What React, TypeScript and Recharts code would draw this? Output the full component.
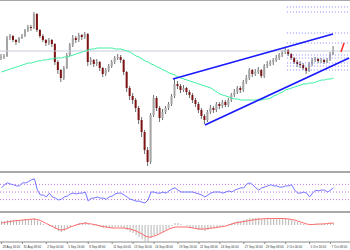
import React from "react";
import {
  Bar,
  ComposedChart,
  Line,
  ReferenceLine,
  XAxis,
  YAxis,
} from "recharts";

// price candles (H4), open of each bar = previous close
const FIRST_OPEN = 142;
const CLOSE = [
  143, 144, 162, 164, 160, 158, 162, 164, 170, 173,
  172, 186, 170, 164, 160, 157, 160, 156, 138, 130,
  122, 132, 145, 155, 162, 160, 165, 163, 166, 138,
  140, 136, 138, 132, 126, 130, 134, 138, 142, 143,
  140, 128, 112, 104, 100, 92, 80, 68, 50, 38,
  85, 102, 92, 82, 88, 92, 96, 104, 116, 114,
  110, 112, 108, 105, 100, 96, 90, 84, 80, 88,
  92, 90, 96, 94, 98, 95, 100, 105, 108, 112,
  110, 118, 122, 130, 126, 128, 130, 124, 134, 136,
  138, 140, 142, 145, 148, 150, 146, 142, 138, 136,
  135, 132, 129, 136, 140, 141, 139, 140, 138, 140,
  146, 150,
];
const HIGH = [
  146, 146, 164, 166, 165, 161, 163, 166, 171, 175,
  175, 188, 187, 171, 166, 161, 162, 161, 157, 140,
  131, 134, 147, 157, 165, 164, 167, 166, 168, 167,
  143, 141, 141, 139, 133, 132, 136, 140, 144, 146,
  145, 141, 129, 114, 107, 102, 94, 83, 70, 53,
  87, 105, 104, 94, 91, 94, 98, 106, 121, 119,
  116, 115, 113, 110, 107, 102, 98, 92, 86, 90,
  95, 94, 98, 98, 100, 100, 102, 107, 111, 114,
  114, 120, 125, 132, 131, 131, 133, 131, 136, 139,
  140, 142, 145, 147, 150, 152, 151, 147, 143, 140,
  139, 137, 133, 138, 142, 143, 142, 142, 141, 142,
  148, 154,
];
const LOW = [
  140, 141, 143, 160, 158, 155, 157, 161, 163, 168,
  169, 171, 168, 162, 158, 154, 155, 153, 135, 126,
  118, 120, 131, 144, 153, 157, 158, 160, 161, 134,
  135, 133, 134, 129, 123, 124, 128, 132, 136, 140,
  137, 125, 108, 100, 96, 88, 76, 63, 46, 34,
  36, 83, 89, 78, 80, 86, 90, 94, 102, 111,
  107, 108, 105, 102, 97, 93, 87, 81, 76, 78,
  86, 87, 88, 91, 92, 93, 93, 98, 103, 106,
  107, 108, 116, 120, 123, 124, 126, 122, 122, 132,
  134, 135, 138, 140, 143, 146, 144, 140, 136, 133,
  132, 130, 126, 128, 134, 138, 137, 137, 136, 137,
  139, 145,
];
const MA = [
  128, 129, 130, 131, 132, 133, 134, 135, 136, 137,
  137, 138, 139, 139, 140, 140, 141, 141, 142, 142,
  142, 143, 143, 144, 145, 146, 147, 148, 149, 150,
  151, 151, 152, 152, 152, 152, 152, 152, 151, 151,
  151, 150, 149, 148, 146, 144, 143, 141, 139, 138,
  136, 135, 133, 132, 130, 129, 127, 126, 125, 123,
  122, 121, 120, 119, 118, 117, 116, 115, 114, 113,
  112, 110, 108, 106, 105, 104, 103, 102, 101, 101,
  100, 100, 100, 100, 100, 100, 100, 100, 101, 101,
  102, 104, 105, 107, 108, 110, 111, 112, 113, 114,
  115, 116, 116, 117, 117, 118, 119, 120, 120, 121,
  121, 122,
];
const BID = 149;
const FIB_LEVELS = [193, 188, 167, 157, 145, 142, 137, 134, 130];
const FIB_FROM = 95.4;
const UPPER_TREND = [
  { x: 57.3, y: 121 },
  { x: 110.8, y: 166 },
];
const LOWER_TREND = [
  { x: 68, y: 75 },
  { x: 116.2, y: 142 },
];
const SIGNAL_MARK = [
  { x: 113.5, y: 148 },
  { x: 114.5, y: 157 },
];

const RSI = [
  61, 69, 74, 71, 69, 66, 66, 74, 74, 77,
  82, 85, 55, 42, 42, 37, 47, 37, 34, 29,
  31, 37, 39, 45, 47, 45, 47, 47, 50, 26,
  34, 34, 37, 34, 34, 31, 37, 39, 45, 47,
  47, 42, 37, 31, 29, 26, 26, 23, 21, 29,
  50, 50, 47, 47, 50, 47, 53, 58, 61, 55,
  50, 50, 50, 50, 50, 47, 45, 42, 37, 42,
  47, 50, 50, 50, 47, 50, 53, 50, 55, 58,
  61, 61, 71, 74, 69, 61, 55, 61, 63, 66,
  69, 66, 66, 63, 63, 66, 66, 69, 55, 47,
  47, 50, 47, 37, 47, 55, 53, 55, 55, 50,
  55, 61,
];
const RSI_LEVELS = [30, 50, 70];

const MACD_HIST = [
  4, 4, 5, 5, 5, 5, 5, 5, 6, 6,
  6, 7, 5, 3, 1, 0, -1, -2, -4, -6,
  -7, -6, -4, -2, 0, 1, 2, 2, 3, 1,
  0, -1, -1, -2, -3, -3, -3, -3, -2, -2,
  -2, -3, -5, -7, -8, -10, -12, -14, -16, -16,
  -13, -10, -9, -8, -7, -5, -3, -1, 2, 2,
  1, 0, -1, -2, -3, -4, -5, -5, -6, -5,
  -4, -3, -3, -2, -1, 0, 1, 2, 3, 4,
  4, 5, 6, 7, 7, 7, 7, 6, 6, 6,
  6, 6, 6, 7, 7, 7, 6, 5, 4, 3,
  2, 1, 0, 0, 1, 1, 1, 1, 1, 1,
  2, 2,
];
const MACD_SIGNAL = [
  2, 2.5, 3, 3.5, 4, 4.3, 4.6, 5, 5.2, 5.5,
  5.8, 6, 5.5, 4.5, 3, 1.5, 0, -1.5, -3, -4.5,
  -5, -4.5, -3.5, -2, -1, 0, 1, 1.5, 2, 1.5,
  1, 0.5, 0, -1, -1.5, -2, -2.5, -3, -3, -3,
  -3, -3, -3.5, -4, -5, -6, -7.5, -9, -11, -12,
  -12, -11, -10, -8.5, -7, -5.5, -4, -3, -2, -2,
  -2, -2, -2, -2.5, -3, -3.5, -4, -4, -4, -3.5,
  -3, -3, -2.5, -2, -1.5, -1, 0, 1, 2, 2.5,
  3, 3.5, 4, 4.5, 5, 5.5, 6, 6, 6.3, 6.5,
  6.5, 6.5, 6.5, 6.5, 6.5, 6.3, 6, 5.5, 5, 4,
  3, 2, 1, 0.5, 0.5, 0.8, 1, 1, 1.2, 1.5,
  1.8, 2,
];

const TICK_LABELS = [
  "28 Aug 16:00", "31 Aug 08:00", "2 Sep 00:00", "5 Sep 16:00",
  "8 Sep 08:00", "11 Sep 00:00", "13 Sep 16:00", "16 Sep 08:00",
  "19 Sep 16:00", "21 Sep 08:00", "24 Sep 00:00", "27 Sep 16:00",
  "29 Sep 08:00", "2 Oct 00:00", "5 Oct 16:00", "7 Oct 08:00",
];
const TICK_INDEX = [0, 7, 15, 22, 29, 37, 44, 51, 59, 66, 73, 81, 88, 95, 103, 110];

const X_DOMAIN: [number, number] = [-0.5, 116.5];
const NO_MARGIN = { top: 0, right: 0, bottom: 0, left: 0 };

const candles = CLOSE.map((close, i) => ({
  i,
  open: i === 0 ? FIRST_OPEN : CLOSE[i - 1],
  close,
  high: HIGH[i],
  low: LOW[i],
  ma: MA[i],
}));
const rsiData = RSI.map((rsi, i) => ({ i, rsi }));
const macdData = MACD_HIST.map((hist, i) => ({ i, hist, signal: MACD_SIGNAL[i] }));

const Candle = (props: any) => {
  const { x, y, width, height, payload } = props;
  if (!payload || payload.high == null) return null;
  const { open, close, high, low } = payload;
  const top = Math.min(y, y + height);
  const h = Math.abs(height);
  const ppu = h / Math.max(high - low, 0.0001);
  const bodyTop = top + (high - Math.max(open, close)) * ppu;
  const bodyH = Math.max(Math.abs(open - close) * ppu, 1);
  const up = close >= open;
  const cx = x + width / 2;
  return (
    <g>
      <line x1={cx} x2={cx} y1={top} y2={top + h} stroke="#707070" strokeWidth={1} />
      <rect x={x} y={bodyTop} width={width} height={bodyH} fill={up ? "#a4a4a4" : "#7d1414"} />
    </g>
  );
};

const DateTick = (props: any) => {
  const { x, y, payload } = props;
  const k = TICK_INDEX.indexOf(payload.value);
  return (
    <text
      x={x + 1}
      y={y + 2}
      fontSize={3}
      fill="#333"
      fontFamily="Liberation Sans"
      textAnchor="start"
    >
      {TICK_LABELS[k]}
    </text>
  );
};

const frame = (top: number, height: number) => (
  <div
    style={{
      position: "absolute",
      left: 0,
      top,
      width: 350,
      height,
      background: "#a8a8a8",
    }}
  />
);

export default function App() {
  return (
    <div
      style={{
        position: "absolute",
        left: 0,
        top: 0,
        width: 350,
        height: 250,
        background: "#ffffff",
        overflow: "hidden",
      }}
    >
      {frame(0, 1)}

      <div style={{ position: "absolute", left: 0, top: 1 }}>
        <ComposedChart width={350} height={170} data={candles} margin={NO_MARGIN}>
          <XAxis dataKey="i" type="number" domain={X_DOMAIN} hide allowDataOverflow />
          <YAxis domain={[29, 199]} hide allowDataOverflow />
          <ReferenceLine y={BID} stroke="#c6ccd8" strokeWidth={1} />
          {FIB_LEVELS.map((level) => (
            <ReferenceLine
              key={level}
              segment={[
                { x: FIB_FROM, y: level },
                { x: X_DOMAIN[1], y: level },
              ]}
              stroke="#8a8aff"
              strokeDasharray="1 2"
            />
          ))}
          <Line
            dataKey="ma"
            stroke="#3ef0a4"
            strokeWidth={1}
            dot={false}
            isAnimationActive={false}
          />
          <Bar
            dataKey={(d: any) => [d.low, d.high]}
            shape={Candle}
            barSize={2}
            isAnimationActive={false}
          />
          <ReferenceLine segment={UPPER_TREND} stroke="#1a1aff" strokeWidth={1.8} />
          <ReferenceLine segment={LOWER_TREND} stroke="#1a1aff" strokeWidth={1.8} />
          <ReferenceLine segment={SIGNAL_MARK} stroke="#ff2a2a" strokeWidth={1.5} />
        </ComposedChart>
      </div>

      {frame(171, 2)}

      <div style={{ position: "absolute", left: 0, top: 173 }}>
        <ComposedChart width={350} height={38} data={rsiData} margin={NO_MARGIN}>
          <XAxis dataKey="i" type="number" domain={X_DOMAIN} hide allowDataOverflow />
          <YAxis domain={[0, 100]} hide allowDataOverflow />
          {RSI_LEVELS.map((level) => (
            <ReferenceLine
              key={level}
              y={level}
              stroke="#c978e0"
              strokeDasharray="1 2"
            />
          ))}
          <Line
            dataKey="rsi"
            stroke="#7474ff"
            strokeWidth={1}
            dot={false}
            isAnimationActive={false}
          />
        </ComposedChart>
      </div>

      {frame(211, 2)}

      <div style={{ position: "absolute", left: 0, top: 213 }}>
        <ComposedChart width={350} height={37} data={macdData} margin={NO_MARGIN}>
          <XAxis
            dataKey="i"
            type="number"
            domain={X_DOMAIN}
            ticks={TICK_INDEX}
            interval={0}
            height={8}
            tickSize={2}
            tick={<DateTick />}
            stroke="#8a8a8a"
            allowDataOverflow
          />
          <YAxis domain={[-17, 12]} hide allowDataOverflow />
          <Bar dataKey="hist" fill="#b4b4b4" barSize={1} isAnimationActive={false} />
          <Line
            dataKey="signal"
            stroke="#ff6a6a"
            strokeWidth={1}
            dot={false}
            isAnimationActive={false}
          />
        </ComposedChart>
      </div>
    </div>
  );
}
